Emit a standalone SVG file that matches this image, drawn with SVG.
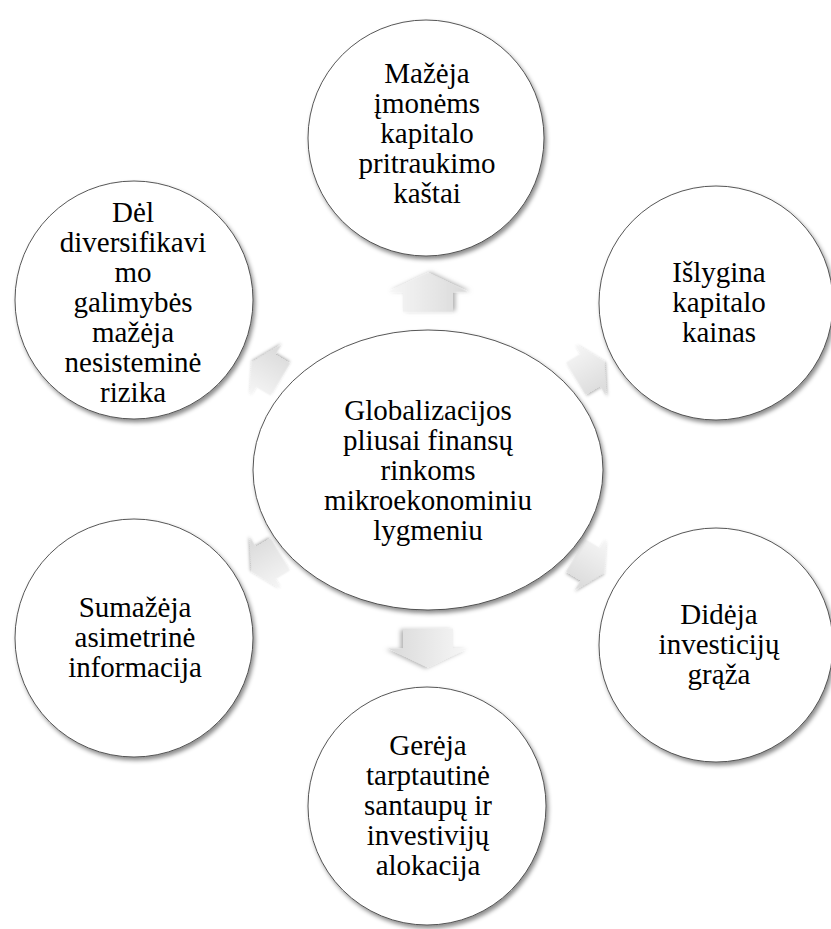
<svg xmlns="http://www.w3.org/2000/svg" width="831" height="929" viewBox="0 0 831 929">
<defs>
<filter id="sh" x="-20%" y="-20%" width="140%" height="140%">
<feDropShadow dx="2" dy="3" stdDeviation="2" flood-color="#000" flood-opacity="0.45"/>
</filter>
<filter id="ash" x="-30%" y="-30%" width="160%" height="160%">
<feDropShadow dx="1" dy="2.5" stdDeviation="2" flood-color="#000" flood-opacity="0.3"/>
</filter>
<linearGradient id="ag" x1="0" y1="0" x2="0" y2="1">
<stop offset="0" stop-color="#f7f7f7"/>
<stop offset="1" stop-color="#d9d9d9"/>
</linearGradient>
<path id="arr" d="M-19.5,-25 L0.5,-25 L0.5,-40 L19.5,0 L0.5,40 L0.5,25 L-19.5,25 Z"/>
</defs>
<style>
.n{fill:#fff;stroke:#444;stroke-width:0.9;filter:url(#sh)}
.t{font-family:"Liberation Serif","Times New Roman",serif;font-size:29px;fill:#000;text-anchor:middle}
.a{fill:url(#ag);filter:url(#ash)}
</style>
<rect width="831" height="929" fill="#fff"/>
<g id="connectors">
<use href="#arr" class="a" transform="translate(428,292.5) rotate(-90)"/>
<use href="#arr" class="a" transform="translate(428,648) rotate(90)"/>
<use href="#arr" class="a" transform="translate(590,370) rotate(-31) scale(0.85,0.75)"/>
<use href="#arr" class="a" transform="translate(590,564) rotate(31) scale(0.85,0.75)"/>
<use href="#arr" class="a" transform="translate(266,563) rotate(149) scale(0.85,0.75)"/>
<use href="#arr" class="a" transform="translate(266,371) rotate(-149) scale(0.85,0.75)"/>
</g>
<g id="center">
<ellipse class="n" cx="428" cy="470" rx="175" ry="140"/>
<text class="t" x="428" y="420">Globalizacijos</text>
<text class="t" x="428" y="450">pliusai finansų</text>
<text class="t" x="428" y="480">rinkoms</text>
<text class="t" x="428" y="510">mikroekonominiu</text>
<text class="t" x="428" y="540">lygmeniu</text>
</g>
<g id="top">
<circle class="n" cx="426" cy="138" r="118"/>
<text class="t" x="427" y="83">Mažėja</text>
<text class="t" x="427" y="113">įmonėms</text>
<text class="t" x="427" y="143">kapitalo</text>
<text class="t" x="427" y="173">pritraukimo</text>
<text class="t" x="427" y="203">kaštai</text>
</g>
<g id="right-top">
<circle class="n" cx="716" cy="303" r="117"/>
<text class="t" x="719" y="282">Išlygina</text>
<text class="t" x="719" y="312">kapitalo</text>
<text class="t" x="719" y="342">kainas</text>
</g>
<g id="right-bottom">
<circle class="n" cx="716" cy="645" r="117"/>
<text class="t" x="719" y="624">Didėja</text>
<text class="t" x="719" y="654">investicijų</text>
<text class="t" x="719" y="684">grąža</text>
</g>
<g id="bottom">
<circle class="n" cx="427" cy="806" r="119"/>
<text class="t" x="428" y="755">Gerėja</text>
<text class="t" x="428" y="785">tarptautinė</text>
<text class="t" x="428" y="815">santaupų ir</text>
<text class="t" x="428" y="845">investivijų</text>
<text class="t" x="428" y="875">alokacija</text>
</g>
<g id="left-bottom">
<circle class="n" cx="134" cy="638" r="119"/>
<text class="t" x="135" y="617">Sumažėja</text>
<text class="t" x="135" y="647">asimetrinė</text>
<text class="t" x="135" y="677">informacija</text>
</g>
<g id="left-top">
<circle class="n" cx="134" cy="300" r="119"/>
<text class="t" x="133" y="222">Dėl</text>
<text class="t" x="133" y="252">diversifikavi</text>
<text class="t" x="133" y="282">mo</text>
<text class="t" x="133" y="312">galimybės</text>
<text class="t" x="133" y="342">mažėja</text>
<text class="t" x="133" y="372">nesisteminė</text>
<text class="t" x="133" y="402">rizika</text>
</g>
</svg>
